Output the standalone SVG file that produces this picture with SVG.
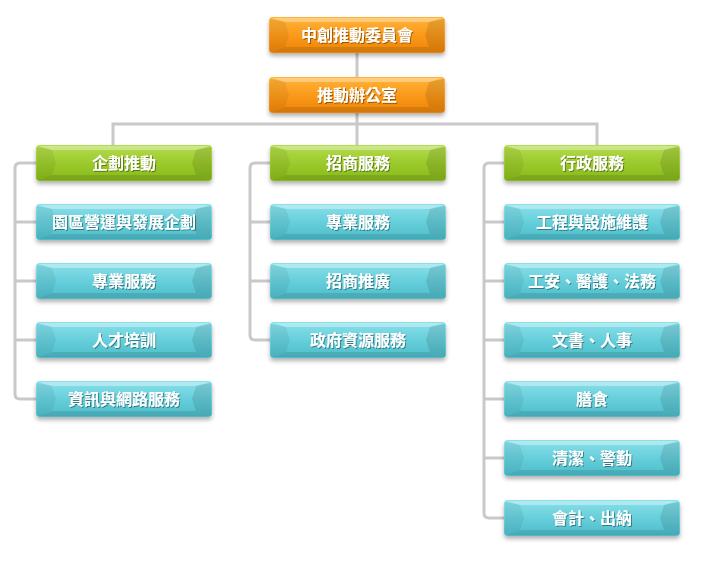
<svg xmlns="http://www.w3.org/2000/svg" xmlns:xlink="http://www.w3.org/1999/xlink" width="722" height="567" viewBox="0 0 722 567">
<style>
.lbl{font-family:"Noto Sans CJK TC","Noto Sans CJK SC",sans-serif;font-size:16px;font-weight:bold;fill:#fff;text-anchor:middle;dominant-baseline:central;filter:url(#tsh)}
.conn{fill:none;stroke:#c9c9c9;stroke-width:3}
</style>
<defs>
<linearGradient id="gOr" x1="0" y1="0" x2="0" y2="1"><stop offset="0" stop-color="#ffb43a"/><stop offset="0.5" stop-color="#fb9a1b"/><stop offset="1" stop-color="#ec8306"/></linearGradient>
<linearGradient id="gGr" x1="0" y1="0" x2="0" y2="1"><stop offset="0" stop-color="#b4dc50"/><stop offset="0.5" stop-color="#9cca2c"/><stop offset="1" stop-color="#86b81a"/></linearGradient>
<linearGradient id="gCy" x1="0" y1="0" x2="0" y2="1"><stop offset="0" stop-color="#8ae0ea"/><stop offset="0.5" stop-color="#66cfdb"/><stop offset="1" stop-color="#4dbcc9"/></linearGradient>
<filter id="sh" x="-10%" y="-20%" width="120%" height="160%"><feDropShadow dx="0" dy="3" stdDeviation="2" flood-color="#000" flood-opacity="0.3"/></filter>
<filter id="tsh" x="-10%" y="-30%" width="120%" height="160%"><feDropShadow dx="1" dy="1" stdDeviation="0.6" flood-color="#000" flood-opacity="0.4"/></filter>
<g id="bevel">
<polygon points="2,1 174,1 160,5 16,5" fill="#fff" opacity="0.35"/>
<polygon points="1,2 16,5 20,18 16,30 1,35" fill="#000" opacity="0.06"/>
<polygon points="175,2 160,5 156,18 160,30 175,35" fill="#000" opacity="0.1"/>
<polygon points="2,35 16,30 160,30 174,35" fill="#000" opacity="0.1"/>
</g>
</defs>
<rect width="722" height="567" fill="#fff"/>
<g id="connectors">
<path class="conn" d="M357,53 V77 M357,112 V145 M113,145 V124 H597 V145"/>
<path class="conn" d="M36,163 H20 Q15,163 15,168 V394 Q15,399 20,399 H36 M15,222 H36 M15,281 H36 M15,340 H36"/>
<path class="conn" d="M270,163 H255 Q250,163 250,168 V335 Q250,340 255,340 H270 M250,222 H270 M250,281 H270"/>
<path class="conn" d="M504,163 H489 Q484,163 484,168 V513 Q484,518 489,518 H504 M484,222 H504 M484,281 H504 M484,340 H504 M484,399 H504 M484,458 H504"/>
</g>
<g id="n_top" transform="translate(269,17)"><rect width="176" height="36" rx="4" fill="url(#gOr)" filter="url(#sh)"/><use xlink:href="#bevel"/><text class="lbl" x="88" y="17">中創推動委員會</text></g>
<g id="n_office" transform="translate(269,77)"><rect width="176" height="36" rx="4" fill="url(#gOr)" filter="url(#sh)"/><use xlink:href="#bevel"/><text class="lbl" x="88" y="17">推動辦公室</text></g>
<g id="n_l0" transform="translate(36,145)"><rect width="176" height="36" rx="4" fill="url(#gGr)" filter="url(#sh)"/><use xlink:href="#bevel"/><text class="lbl" x="88" y="17">企劃推動</text></g>
<g id="n_l1" transform="translate(36,204)"><rect width="176" height="36" rx="4" fill="url(#gCy)" filter="url(#sh)"/><use xlink:href="#bevel"/><text class="lbl" x="88" y="17">園區營運與發展企劃</text></g>
<g id="n_l2" transform="translate(36,263)"><rect width="176" height="36" rx="4" fill="url(#gCy)" filter="url(#sh)"/><use xlink:href="#bevel"/><text class="lbl" x="88" y="17">專業服務</text></g>
<g id="n_l3" transform="translate(36,322)"><rect width="176" height="36" rx="4" fill="url(#gCy)" filter="url(#sh)"/><use xlink:href="#bevel"/><text class="lbl" x="88" y="17">人才培訓</text></g>
<g id="n_l4" transform="translate(36,381)"><rect width="176" height="36" rx="4" fill="url(#gCy)" filter="url(#sh)"/><use xlink:href="#bevel"/><text class="lbl" x="88" y="17">資訊與網路服務</text></g>
<g id="n_m0" transform="translate(270,145)"><rect width="176" height="36" rx="4" fill="url(#gGr)" filter="url(#sh)"/><use xlink:href="#bevel"/><text class="lbl" x="88" y="17">招商服務</text></g>
<g id="n_m1" transform="translate(270,204)"><rect width="176" height="36" rx="4" fill="url(#gCy)" filter="url(#sh)"/><use xlink:href="#bevel"/><text class="lbl" x="88" y="17">專業服務</text></g>
<g id="n_m2" transform="translate(270,263)"><rect width="176" height="36" rx="4" fill="url(#gCy)" filter="url(#sh)"/><use xlink:href="#bevel"/><text class="lbl" x="88" y="17">招商推廣</text></g>
<g id="n_m3" transform="translate(270,322)"><rect width="176" height="36" rx="4" fill="url(#gCy)" filter="url(#sh)"/><use xlink:href="#bevel"/><text class="lbl" x="88" y="17">政府資源服務</text></g>
<g id="n_r0" transform="translate(504,145)"><rect width="176" height="36" rx="4" fill="url(#gGr)" filter="url(#sh)"/><use xlink:href="#bevel"/><text class="lbl" x="88" y="17">行政服務</text></g>
<g id="n_r1" transform="translate(504,204)"><rect width="176" height="36" rx="4" fill="url(#gCy)" filter="url(#sh)"/><use xlink:href="#bevel"/><text class="lbl" x="88" y="17">工程與設施維護</text></g>
<g id="n_r2" transform="translate(504,263)"><rect width="176" height="36" rx="4" fill="url(#gCy)" filter="url(#sh)"/><use xlink:href="#bevel"/><text class="lbl" x="88" y="17">工安、醫護、法務</text></g>
<g id="n_r3" transform="translate(504,322)"><rect width="176" height="36" rx="4" fill="url(#gCy)" filter="url(#sh)"/><use xlink:href="#bevel"/><text class="lbl" x="88" y="17">文書、人事</text></g>
<g id="n_r4" transform="translate(504,381)"><rect width="176" height="36" rx="4" fill="url(#gCy)" filter="url(#sh)"/><use xlink:href="#bevel"/><text class="lbl" x="88" y="17">膳食</text></g>
<g id="n_r5" transform="translate(504,440)"><rect width="176" height="36" rx="4" fill="url(#gCy)" filter="url(#sh)"/><use xlink:href="#bevel"/><text class="lbl" x="88" y="17">清潔、警勤</text></g>
<g id="n_r6" transform="translate(504,500)"><rect width="176" height="36" rx="4" fill="url(#gCy)" filter="url(#sh)"/><use xlink:href="#bevel"/><text class="lbl" x="88" y="17">會計、出納</text></g>
</svg>
